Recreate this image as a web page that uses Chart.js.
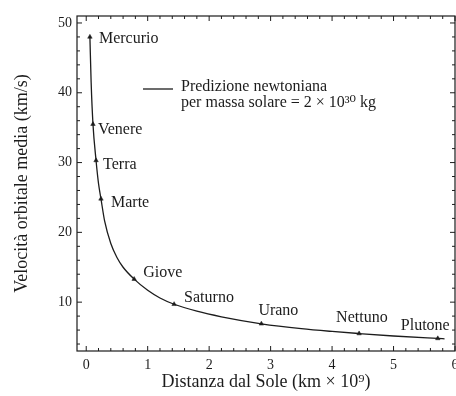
<!DOCTYPE html>
<html><head><meta charset="utf-8">
<script src="https://cdn.jsdelivr.net/npm/chart.js@4/dist/chart.umd.min.js"></script>
<style>html,body{margin:0;padding:0;background:#fff}#w{width:456px;height:396px}</style>
</head><body><div id="w"><canvas id="c" width="456" height="396"></canvas></div>
<script>
const planetNames = ["Mercurio","Venere","Terra","Marte","Giove","Saturno","Urano","Nettuno","Plutone"];
const planetDist = [0.06, 0.11, 0.16, 0.24, 0.78, 1.43, 2.85, 4.44, 5.72];
const planetSpeed = [48.0, 35.5, 30.3, 24.8, 13.3, 9.7, 6.9, 5.5, 4.8];
const curveDist = [0.06,0.08,0.11,0.16,0.20,0.24,0.30,0.40,0.50,0.60,0.78,1.00,1.20,1.43,1.80,2.20,2.85,3.50,4.00,4.44,5.00,5.72,5.83];
const curveSpeed = [48.0,41.5,35.5,30.3,27.0,24.8,21.6,18.4,16.4,15.0,13.3,11.7,10.6,9.7,8.7,7.9,6.9,6.2,5.8,5.5,5.15,4.8,4.75];
const xTickValues = [0,1,2,3,4,5,6];
const yTickValues = [10,20,30,40,50];
const legendLines = ["Predizione newtoniana","per massa solare = 2 × 10³⁰ kg"];
const xTitle = "Distanza dal Sole (km × 10⁹)";
const yTitle = "Velocità orbitale media (km/s)";

const labelOffsets = [[9,2],[5,6],[7,4],[10,4],[9,-6],[10,-6],[-3,-13],[-23,-16],[-37,-13]];
const SERIF = '"Liberation Serif", "DejaVu Serif", serif';
const INK = '#1c1c1c';

function zeroPad(s) { s.paddingLeft = 0; s.paddingRight = 0; s.paddingTop = 0; s.paddingBottom = 0; }

const boxPlugin = {
  id: 'box',
  afterDraw(chart) {
    const ctx = chart.ctx, a = chart.chartArea;
    const xs = chart.scales.x, ys = chart.scales.y;
    ctx.save();
    ctx.strokeStyle = INK; ctx.lineWidth = 1.2;
    ctx.strokeRect(a.left, a.top, a.right - a.left, a.bottom - a.top);
    ctx.lineWidth = 1;
    for (let i = 0; i <= 30; i++) {
      const v = i * 0.2;
      const major = i % 5 === 0;
      const L = major ? 5 : 3;
      const px = xs.getPixelForValue(v);
      ctx.beginPath();
      ctx.moveTo(px, a.bottom); ctx.lineTo(px, a.bottom - L);
      ctx.moveTo(px, a.top); ctx.lineTo(px, a.top + L);
      ctx.stroke();
    }
    for (let v = 4; v <= 50; v += 2) {
      const major = v % 10 === 0;
      const L = major ? 5 : 3;
      const py = ys.getPixelForValue(v);
      ctx.beginPath();
      ctx.moveTo(a.left, py); ctx.lineTo(a.left + L, py);
      ctx.moveTo(a.right, py); ctx.lineTo(a.right - L, py);
      ctx.stroke();
    }
    const meta = chart.getDatasetMeta(1);
    ctx.fillStyle = INK;
    ctx.font = '16px ' + SERIF;
    ctx.textAlign = 'left'; ctx.textBaseline = 'middle';
    meta.data.forEach((pt, i) => {
      const o = labelOffsets[i];
      ctx.fillText(planetNames[i], pt.x + o[0], pt.y + o[1]);
    });
    ctx.lineWidth = 1.3;
    ctx.beginPath(); ctx.moveTo(143, 89); ctx.lineTo(173, 89); ctx.stroke();
    ctx.fillText(legendLines[0], 181, 87);
    ctx.fillText(legendLines[1], 181, 103);
    ctx.restore();
  }
};

new Chart(document.getElementById('c'), {
  type: 'scatter',
  data: {
    datasets: [
      {
        type: 'line',
        data: curveDist.map((x, i) => ({x, y: curveSpeed[i]})),
        borderColor: INK, borderWidth: 1.3, pointRadius: 0,
        cubicInterpolationMode: 'monotone', fill: false
      },
      {
        data: planetDist.map((x, i) => ({x, y: planetSpeed[i]})),
        pointStyle: 'triangle', pointRadius: 2.6,
        backgroundColor: INK, borderColor: INK, borderWidth: 0.5,
        showLine: false
      }
    ]
  },
  plugins: [boxPlugin],
  options: {
    responsive: false, animation: false, devicePixelRatio: 1,
    layout: { autoPadding: false, padding: { top: 16, right: 1, left: 0, bottom: 0 } },
    plugins: { legend: { display: false }, tooltip: { enabled: false } },
    scales: {
      x: {
        type: 'linear', min: -0.15, max: 6,
        afterBuildTicks: s => { s.ticks = xTickValues.map(v => ({value: v})); },
        afterFit: s => { s.height = 45; zeroPad(s); },
        grid: { display: false, drawTicks: false },
        border: { display: false },
        ticks: { color: INK, font: { family: SERIF, size: 14 }, padding: 6, maxRotation: 0 },
        title: { display: true, text: xTitle, color: INK, font: { family: SERIF, size: 18 }, padding: { top: 0, bottom: 3 } }
      },
      y: {
        type: 'linear', min: 3, max: 51,
        afterBuildTicks: s => { s.ticks = yTickValues.map(v => ({value: v})); },
        afterFit: s => { s.width = 77; zeroPad(s); },
        grid: { display: false, drawTicks: false },
        border: { display: false },
        ticks: { color: INK, font: { family: SERIF, size: 14 }, padding: 5 },
        title: { display: true, text: yTitle, color: INK, font: { family: SERIF, size: 18 }, padding: { top: 11, bottom: 0 } }
      }
    }
  }
});
</script></body></html>
